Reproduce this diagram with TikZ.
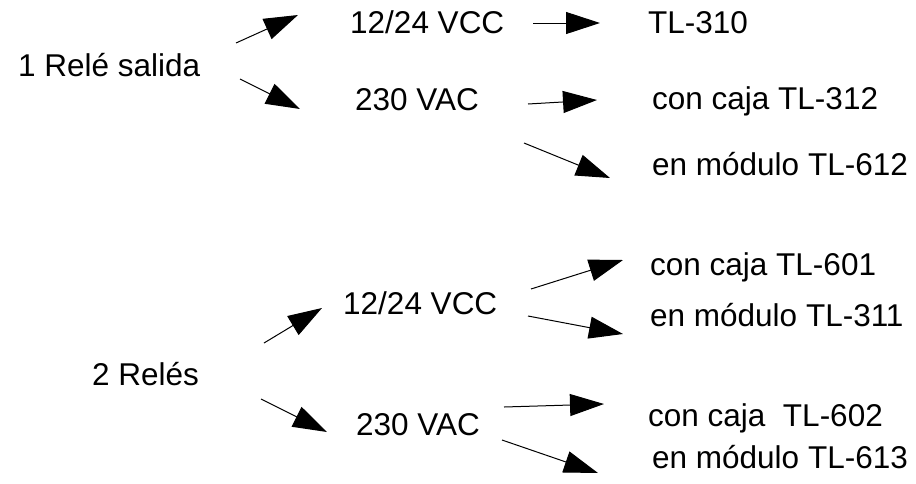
\documentclass[tikz,border=0pt]{standalone}
\usepackage{fontspec}
\setmainfont{Liberation Sans}
\usetikzlibrary{arrows.meta}

\begin{document}
\begin{tikzpicture}[x=1pt,y=-1pt,
  txt/.style={anchor=base west,inner sep=0pt,font=\fontsize{31.5}{36}\selectfont},
  arr/.style={-{Triangle[length=34pt,width=22pt]},line width=1pt}]
\useasboundingbox (0,0) rectangle (916,483);

\node [txt] (rel1) at (18,76) {1 Relé salida};
\node [txt] (dc1) at (350,33) {12/24 VCC};
\node [txt] (ac1) at (355,110) {230 VAC};
\node [txt] (t310) at (648,33) {TL-310};
\node [txt] (t312) at (652,109) {con caja TL-312};
\node [txt] (t612) at (652,175) {en módulo TL-612};

\node [txt] (rel2) at (92,385) {2 Relés};
\node [txt] (dc2) at (343,314) {12/24 VCC};
\node [txt] (ac2) at (356,435) {230 VAC};
\node [txt] (t601) at (650,275) {con caja TL-601};
\node [txt] (t311) at (650,326) {en módulo TL-311};
\node [txt] (t602) at (648,426) {con caja\ \ TL-602};
\node [txt] (t613) at (652,468) {en módulo TL-613};

% arrows: start and end points
\foreach \n/\xa/\ya/\xb/\yb in {a/236/43/298/15, b/240/79/300/109,
    c/533/23/600/23, d/528/104/597/100, e/524/143/610/178,
    f/264/343/322/308, g/261/399/327/432, h/531/289/623/260,
    i/528/316/623/334, j/504/407/604/404, k/502/440/598/473}
{
  \coordinate (\n s) at (\xa,\ya);
  \coordinate (\n e) at (\xb,\yb);
  \draw [arr] (\n s) -- (\n e);
}

\end{tikzpicture}
\end{document}
